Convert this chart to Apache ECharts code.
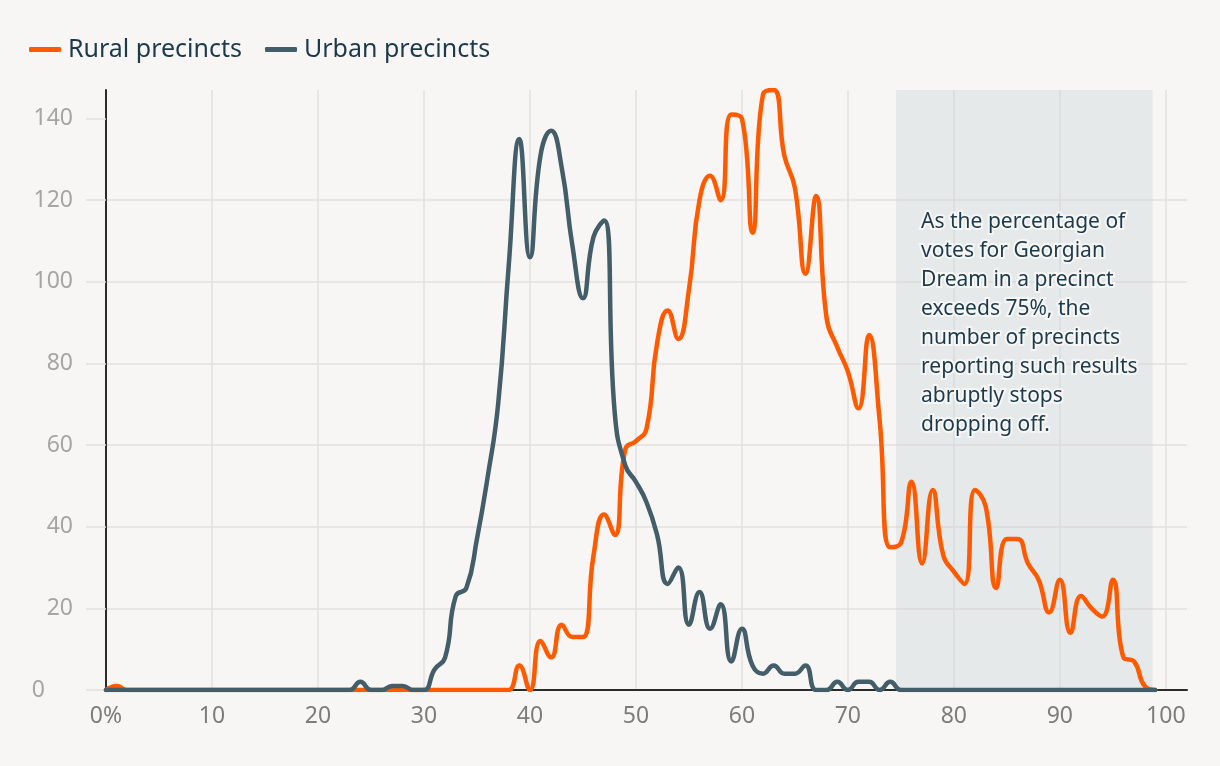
<!DOCTYPE html>
<html>
<head>
<meta charset="utf-8">
<script src="https://cdn.jsdelivr.net/npm/echarts@6/dist/echarts.min.js"></script>
<style>
  html, body { margin: 0; padding: 0; background: #f7f6f4; }
  #chart { width: 1220px; height: 766px; }
</style>
</head>
<body>
<div id="chart"></div>
<script>
// Percentage of votes for Georgian Dream (bin, %)
const pctBins = [
  0,1,2,3,4,5,6,7,8,9,10,11,12,13,14,15,16,17,18,19,
  20,21,22,23,24,25,26,27,28,29,30,31,32,33,34,35,36,37,38,39,
  40,41,42,43,44,45,46,47,48,49,50,51,52,53,54,55,56,57,58,59,
  60,61,62,63,64,65,66,67,68,69,70,71,72,73,74,75,76,77,78,79,
  80,81,82,83,84,85,86,87,88,89,90,91,92,93,94,95,96,97,98,99
];
// Number of rural precincts per bin
const ruralPrecincts = [
  0,1,0,0,0,0,0,0,0,0, 0,0,0,0,0,0,0,0,0,0,
  0,0,0,0,0,0,0,0,0,0, 0,0,0,0,0,0,0,0,0,6,
  0,12,8,16,13,13,33,43,38,59, 61,64,85,93,86,98,120,126,120,141,
  140,112,146,147,131,123,102,121,91,84, 78,69,87,66,35,36,51,31,49,33,
  29,26,49,45,25,37,37,31,27,19, 27,14,23,20,18,27,8,7,1,0
];
// Number of urban precincts per bin
const urbanPrecincts = [
  0,0,0,0,0,0,0,0,0,0, 0,0,0,0,0,0,0,0,0,0,
  0,0,0,0,2,0,0,1,1,0, 0,5,8,23,25,37,52,70,104,135,
  106,131,137,128,109,96,111,115,68,55, 51,46,38,26,30,16,24,15,21,7,
  15,6,4,6,4,4,6,0,0,2, 0,2,2,0,2,0,0,0,0,0,
  0,0,0,0,0,0,0,0,0,0, 0,0,0,0,0,0,0,0,0,0
];
const xTickLabels = ['0%','10','20','30','40','50','60','70','80','90','100'];
const yTickValues = [0,20,40,60,80,100,120,140];
const shadeRange = [74.55, 98.75];
const annotationText = 'As the percentage of\nvotes for Georgian\nDream in a precinct\nexceeds 75%, the\nnumber of precincts\nreporting such results\nabruptly stops\ndropping off.';

const FONT = '"Noto Sans", "Open Sans", sans-serif';
const ORANGE = '#ff5a00';
const SLATE = '#435d69';

const chart = echarts.init(document.getElementById('chart'), null, { renderer: 'canvas' });

const ruralData = pctBins.map((p, i) => [p, ruralPrecincts[i]]);
const urbanData = pctBins.map((p, i) => [p, urbanPrecincts[i]]);

chart.setOption({
  backgroundColor: '#f7f6f4',
  animation: false,
  textStyle: { fontFamily: FONT },
  legend: {
    left: 24,
    top: 32,
    itemWidth: 32,
    itemHeight: 5,
    itemGap: 23,
    icon: 'roundRect',
    textStyle: { fontFamily: FONT, fontSize: 25, color: '#1d3a4b', padding: [0, 0, 0, 2] },
    data: ['Rural precincts', 'Urban precincts']
  },
  grid: { left: 106, right: 33, top: 90, bottom: 76, containLabel: false },
  xAxis: {
    type: 'value',
    min: 0,
    max: 102,
    interval: 10,
    axisLine: { show: true, onZero: false, lineStyle: { color: '#2b2b2b', width: 2 } },
    axisTick: { show: false },
    axisLabel: {
      showMaxLabel: false,
      margin: 15,
      fontFamily: FONT,
      fontSize: 23,
      color: '#7c7c7c',
      formatter: v => { const i = Math.round(v / 10); return (v % 10 === 0 && xTickLabels[i] !== undefined) ? xTickLabels[i] : ''; }
    },
    splitLine: { show: true, showMaxLine: false, lineStyle: { color: '#e2e1df', width: 1.5 } }
  },
  yAxis: {
    type: 'value',
    min: 0,
    max: 147,
    interval: 20,
    axisLine: { show: true, lineStyle: { color: '#2b2b2b', width: 2 } },
    axisTick: { show: true, length: 20, customValues: yTickValues, lineStyle: { color: '#e2e1df', width: 1.5 } },
    axisLabel: {
      customValues: yTickValues,
      margin: 33,
      fontFamily: FONT,
      fontSize: 23,
      color: '#a5a5a5',
      formatter: v => v === 0 ? '{z|0}' : String(v),
      rich: { z: { fontFamily: FONT, fontSize: 23, color: '#a5a5a5', padding: [0, 28, 0, 0] } }
    },
    splitLine: { show: true, showMaxLine: false, lineStyle: { color: '#e2e1df', width: 1.5 } }
  },
  series: [
    {
      name: 'Rural precincts',
      type: 'line',
      data: ruralData,
      smooth: 0.5,
      showSymbol: false,
      symbol: 'none',
      color: ORANGE,
      lineStyle: { color: ORANGE, width: 4.5, cap: 'round', join: 'round' },
      z: 3,
      markArea: {
        silent: true,
        z: 1,
        itemStyle: { color: 'rgba(197,206,214,0.32)' },
        label: {
          show: true,
          position: [25, 118],
          formatter: annotationText,
          fontFamily: FONT,
          fontSize: 21,
          lineHeight: 29,
          color: '#1c3a4c',
          textBorderColor: '#f6f6f4',
          textBorderWidth: 4,
          align: 'left',
          verticalAlign: 'top'
        },
        data: [[{ xAxis: shadeRange[0] }, { xAxis: shadeRange[1] }]]
      }
    },
    {
      name: 'Urban precincts',
      type: 'line',
      data: urbanData,
      smooth: 0.5,
      showSymbol: false,
      symbol: 'none',
      color: SLATE,
      lineStyle: { color: SLATE, width: 4.5, cap: 'round', join: 'round' },
      z: 4
    }
  ]
});
</script>
</body>
</html>
